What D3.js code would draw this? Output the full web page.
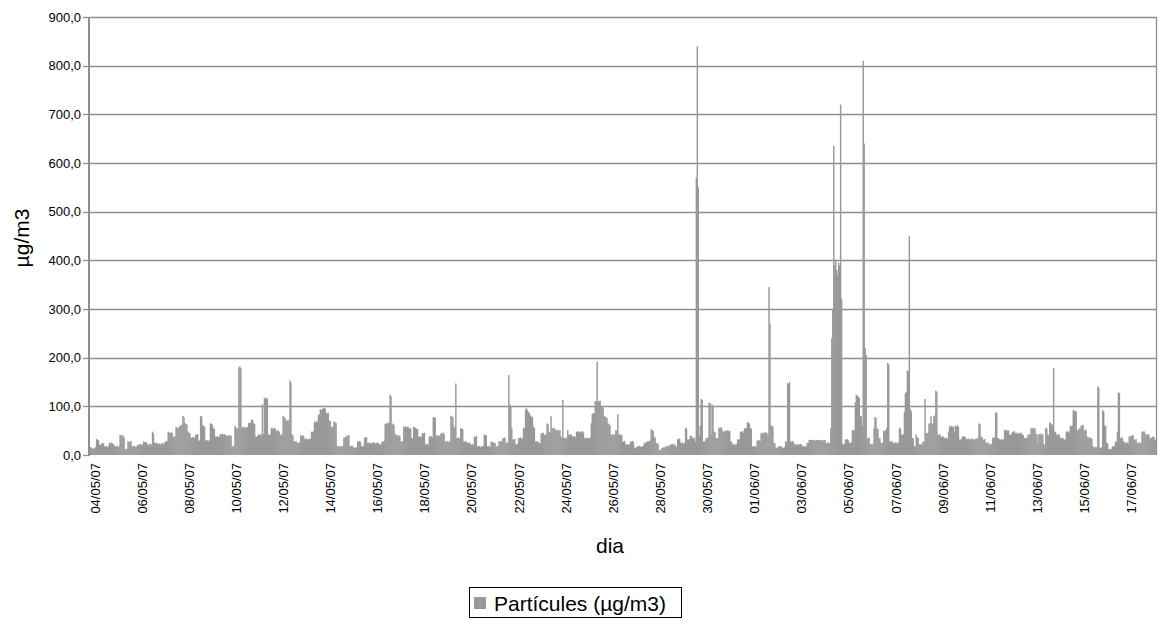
<!DOCTYPE html>
<html>
<head>
<meta charset="utf-8">
<script src="https://cdn.jsdelivr.net/npm/d3@7"></script>
<style>
  html, body { margin: 0; padding: 0; background: #ffffff; }
  svg { display: block; font-family: "Liberation Sans", Arial, sans-serif; }
</style>
</head>
<body>
<svg id="chart" width="1159" height="621"></svg>
<script>
// Days covered by the hourly record
const days = [
  "04/05/07","05/05/07","06/05/07","07/05/07","08/05/07","09/05/07","10/05/07","11/05/07",
  "12/05/07","13/05/07","14/05/07","15/05/07","16/05/07","17/05/07","18/05/07","19/05/07",
  "20/05/07","21/05/07","22/05/07","23/05/07","24/05/07","25/05/07","26/05/07","27/05/07",
  "28/05/07","29/05/07","30/05/07","31/05/07","01/06/07","02/06/07","03/06/07","04/06/07",
  "05/06/07","06/06/07","07/06/07","08/06/07","09/06/07","10/06/07","11/06/07","12/06/07",
  "13/06/07","14/06/07","15/06/07","16/06/07","17/06/07","18/06/07"
];

// Hourly particle concentration (µg/m3), one row per day, hours 00..23
const particules = [
  [14,16,13,15,12,14,16,33,31,30,22,20,23,25,24,18,17,19,16,18,25,23,26,24],
  [22,20,18,17,19,16,18,42,40,38,41,36,12,11,13,28,27,26,29,18,17,19,18,16],
  [18,20,22,21,23,20,22,28,26,27,25,22,20,23,21,22,48,44,25,24,26,23,22,24],
  [21,23,25,22,24,28,27,29,48,46,44,47,45,38,36,39,58,56,55,57,61,60,63,80],
  [78,66,64,62,48,46,45,36,35,37,34,36,42,41,43,30,29,80,79,61,60,58,30,29],
  [31,28,30,65,64,62,55,53,38,37,39,36,38,43,42,44,41,43,42,40,40,39,41,38],
  [40,18,17,19,60,56,55,54,180,182,178,57,56,58,55,57,56,58,66,65,67,73,72,65],
  [64,38,37,39,42,41,43,40,104,43,117,116,118,115,42,41,43,55,54,56,53,55,50,49],
  [51,48,42,41,43,80,78,76,71,70,72,69,153,148,42,40,28,27,29,26,25,24,26,40],
  [39,41,38,33,32,34,31,33,32,34,48,47,49,68,66,70,67,82,84,94,92,95,96,97],
  [95,86,85,87,71,70,58,57,59,69,67,66,18,17,19,16,18,17,19,36,35,37,40,39],
  [41,18,17,19,18,15,14,16,15,28,27,29,26,18,17,19,36,35,37,25,24,26,23,25],
  [24,26,25,23,24,26,25,22,21,23,28,27,29,63,65,66,64,67,124,120,65,63,62,43],
  [42,40,39,41,38,28,27,29,58,57,59,56,58,56,55,54,35,34,58,57,55,54,53,38],
  [37,39,36,45,44,46,22,21,23,20,38,37,39,36,78,76,77,40,39,41,38,40,45,44],
  [46,43,28,27,29,26,28,27,81,79,78,58,56,147,35,34,36,33,55,54,53,28,27,29],
  [26,25,24,26,22,21,23,20,38,37,39,18,17,19,16,18,17,19,42,41,40,18,17,19],
  [16,28,27,26,25,24,18,17,19,28,27,29,26,35,34,36,25,24,26,164,104,100,55,32],
  [31,33,22,21,23,35,34,36,33,35,56,55,94,96,92,88,86,81,79,78,58,56,28,27],
  [29,26,25,24,45,44,46,42,41,43,65,63,48,47,80,55,54,56,53,51,50,52,49,51],
  [38,37,113,35,34,36,33,51,42,41,43,40,38,37,39,36,48,47,49,46,48,47,49,46],
  [35,34,36,33,35,34,36,65,84,86,85,111,109,192,111,110,112,101,99,97,81,79,78,76],
  [65,63,62,42,41,43,40,42,51,50,84,42,41,43,40,28,27,29,22,21,23,20,22,28],
  [27,29,26,15,14,16,18,17,19,16,18,17,19,25,24,26,28,27,29,30,53,51,50,38],
  [36,25,24,23,10,9,11,15,14,16,15,18,17,19,18,20,22,21,23,20,22,18,17,33],
  [32,34,25,24,26,23,25,56,54,32,31,33,40,39,35,34,36,28,570,840,550,40,60,115],
  [113,28,27,29,35,34,36,108,106,42,104,100,48,47,35,35,34,56,55,57,54,48,47,49],
  [50,49,51,48,50,28,27,22,21,23,20,22,32,31,33,48,47,49,46,55,54,56,68,66],
  [65,56,54,18,17,19,16,18,30,29,31,28,45,44,46,43,47,46,45,38,345,270,61,60],
  [58,25,24,15,14,16,18,17,19,16,15,14,16,28,27,148,146,150,28,27,29,26,22,21],
  [23,20,22,21,23,22,18,17,19,16,18,25,24,31,31,31,31,30,30,30,30,31,31,31],
  [31,30,30,30,30,31,25,24,26,23,25,55,240,300,635,390,400,380,370,395,390,720,320,22],
  [21,23,32,31,33,30,25,24,26,51,50,52,108,124,122,120,117,81,79,60,810,640,220,205],
  [35,34,36,22,21,23,20,55,78,76,55,53,35,34,25,24,26,50,49,51,56,189,186,28],
  [27,29,26,25,24,26,23,26,25,56,54,42,41,43,88,127,130,174,172,450,94,90,35,34],
  [18,17,42,36,35,22,21,23,20,28,27,115,45,44,46,65,63,80,65,64,81,79,132,130],
  [42,41,43,38,37,39,36,35,34,36,33,48,59,58,60,57,59,48,60,59,61,58,32,31],
  [33,38,37,39,36,33,32,34,31,33,32,34,33,31,32,34,33,35,65,63,38,37,32,31],
  [33,25,24,26,23,22,21,23,36,35,37,88,86,35,34,32,31,33,30,32,51,50,52,49],
  [51,42,41,43,48,47,49,45,44,46,43,45,44,46,42,41,35,34,36,33,42,41,43,55],
  [54,56,53,55,43,42,25,43,42,44,41,43,22,21,56,54,42,41,67,65,63,61,179,48],
  [47,42,41,43,40,35,34,36,33,32,31,48,47,49,46,60,59,61,92,90,91,89,51,50],
  [55,54,61,60,62,51,50,52,38,37,35,34,36,33,18,16,15,17,16,141,138,15,14,16],
  [92,90,61,59,25,24,12,11,13,12,18,17,19,28,27,48,129,127,35,34,36,28,27,25],
  [24,26,23,38,37,40,39,41,32,31,33,25,24,26,23,25,48,47,49,46,42,41,43,42],
  [35,34,36,38,37,32,31]
];

// Axis tick labels
const xTickLabels = [
  "04/05/07","06/05/07","08/05/07","10/05/07","12/05/07","14/05/07","16/05/07","18/05/07",
  "20/05/07","22/05/07","24/05/07","26/05/07","28/05/07","30/05/07","01/06/07","03/06/07",
  "05/06/07","07/06/07","09/06/07","11/06/07","13/06/07","15/06/07","17/06/07"
];
const yTickValues = [0, 100, 200, 300, 400, 500, 600, 700, 800, 900];

const seriesName = "Partícules (µg/m3)";
const xTitle = "dia";
const yTitle = "µg/m3";

// Flatten into hourly categories
const records = [];
days.forEach((day, d) => {
  (particules[d] || []).forEach((v, h) => {
    records.push({ idx: records.length, day, hour: h, value: v });
  });
});

const plot = { left: 89, right: 1156, top: 17, bottom: 455 };
const svg = d3.select("#chart");
const gray = "#999999";
const lineGray = "#8f8f8f";

const x = d3.scaleBand()
  .domain(records.map(r => r.idx))
  .range([plot.left, plot.right])
  .paddingInner(0).paddingOuter(0);

const y = d3.scaleLinear().domain([0, 900]).range([plot.bottom, plot.top]);

// Horizontal gridlines
svg.append("g").selectAll("line")
  .data(yTickValues.filter(v => v > 0))
  .join("line")
  .attr("x1", plot.left).attr("x2", plot.right)
  .attr("y1", d => Math.round(y(d)) + 0.5).attr("y2", d => Math.round(y(d)) + 0.5)
  .attr("stroke", lineGray).attr("stroke-width", 1.3);

// Right border of plot area
svg.append("line")
  .attr("x1", plot.right + 0.5).attr("x2", plot.right + 0.5)
  .attr("y1", y(900)).attr("y2", plot.bottom)
  .attr("stroke", lineGray).attr("stroke-width", 1.3);

// Hourly bars
const bw = x.bandwidth();
svg.append("g").selectAll("rect")
  .data(records)
  .join("rect")
  .attr("x", d => x(d.idx))
  .attr("width", bw + 0.45)
  .attr("y", d => y(d.value))
  .attr("height", d => y(0) - y(d.value))
  .attr("fill", gray);

// Y axis line, ticks and labels
const fmt = v => v.toFixed(1).replace(".", ",");
const yAxis = svg.append("g");
yAxis.append("line")
  .attr("x1", plot.left).attr("x2", plot.left)
  .attr("y1", y(900)).attr("y2", plot.bottom + 1)
  .attr("stroke", lineGray).attr("stroke-width", 2);
yAxis.selectAll("line.tick")
  .data(yTickValues)
  .join("line")
  .attr("class", "tick")
  .attr("x1", plot.left - 6).attr("x2", plot.left)
  .attr("y1", d => Math.round(y(d)) + 0.5).attr("y2", d => Math.round(y(d)) + 0.5)
  .attr("stroke", lineGray).attr("stroke-width", 1.3);
yAxis.selectAll("text")
  .data(yTickValues)
  .join("text")
  .attr("x", plot.left - 8)
  .attr("y", d => y(d))
  .attr("dy", "0.35em")
  .attr("text-anchor", "end")
  .attr("font-size", 13)
  .attr("fill", "#000")
  .text(fmt);

// X axis date labels, one every 48 hours
svg.append("g").selectAll("text")
  .data(xTickLabels)
  .join("text")
  .attr("transform", (d, i) => {
    const cx = x(i * 48) + bw / 2 + 5.5;
    return `translate(${cx},${plot.bottom + 8}) rotate(-90)`;
  })
  .attr("dy", "0.35em")
  .attr("text-anchor", "end")
  .attr("font-size", 13)
  .attr("fill", "#000")
  .text(d => d);

// Axis titles
svg.append("text")
  .attr("x", 610).attr("y", 553)
  .attr("text-anchor", "middle")
  .attr("font-size", 21)
  .attr("fill", "#000")
  .text(xTitle);

svg.append("text")
  .attr("transform", "translate(22,238) rotate(-90)")
  .attr("dy", "0.35em")
  .attr("text-anchor", "middle")
  .attr("font-size", 21)
  .attr("fill", "#000")
  .text(yTitle);

// Legend
const legend = svg.append("g");
legend.append("rect")
  .attr("x", 469.5).attr("y", 587.5).attr("width", 212).attr("height", 30)
  .attr("fill", "#fff").attr("stroke", "#000").attr("stroke-width", 1);
legend.append("rect")
  .attr("x", 474).attr("y", 597).attr("width", 12).attr("height", 12)
  .attr("fill", gray);
legend.append("text")
  .attr("x", 494).attr("y", 611)
  .attr("font-size", 21)
  .attr("fill", "#000")
  .text(seriesName);
</script>
</body>
</html>
